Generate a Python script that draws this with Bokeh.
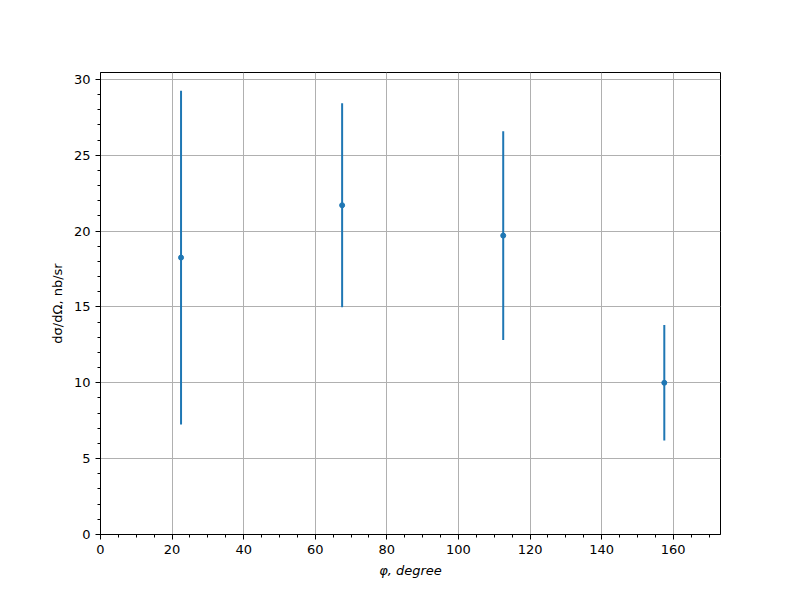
from bokeh.plotting import figure
from bokeh.models import Range1d, SingleIntervalTicker, ColumnDataSource
from bokeh.embed import file_html
from bokeh.resources import INLINE

# data
phi = [22.5, 67.5, 112.5, 157.5]
dsigma = [18.25, 21.7, 19.7, 10.0]
err = [11.0, 6.72, 6.88, 3.8]

lower = [v - e for v, e in zip(dsigma, err)]
upper = [v + e for v, e in zip(dsigma, err)]

src = ColumnDataSource(dict(x=phi, y=dsigma, lo=lower, hi=upper))

p = figure(width=792, height=592, output_backend="svg", toolbar_location=None,
           x_range=Range1d(0, 173.2), y_range=Range1d(0, 30.45),
           min_border_left=100, min_border_top=72, min_border_right=72, min_border_bottom=58)

p.background_fill_color = "white"
p.border_fill_color = "white"
p.outline_line_color = "black"
p.outline_line_width = 1

p.segment(x0="x", y0="lo", x1="x", y1="hi", source=src, line_color="#1f77b4", line_width=2)
p.scatter(x="x", y="y", source=src, size=5, color="#1f77b4", marker="circle")

p.xaxis.ticker = SingleIntervalTicker(interval=20, num_minor_ticks=4)
p.yaxis.ticker = SingleIntervalTicker(interval=5, num_minor_ticks=5)

for ax in (p.xaxis[0], p.yaxis[0]):
    ax.axis_line_color = "black"
    ax.axis_line_width = 1
    ax.major_tick_in = 0
    ax.major_tick_out = 5
    ax.minor_tick_in = 0
    ax.minor_tick_out = 3
    ax.major_tick_line_color = "black"
    ax.minor_tick_line_color = "black"
    ax.major_label_text_font = "DejaVu Sans"
    ax.major_label_text_font_size = "13px"
    ax.major_label_text_color = "black"
    ax.major_label_standoff = 5
    ax.axis_label_text_font = "DejaVu Sans"
    ax.axis_label_text_font_size = "13px"
    ax.axis_label_text_color = "black"
    ax.axis_label_standoff = 6

p.xaxis.axis_label = "φ, degree"
p.xaxis.axis_label_text_font_style = "italic"
p.yaxis.axis_label = "dσ/dΩ, nb/sr"
p.yaxis.axis_label_text_font_style = "normal"

p.xgrid.grid_line_color = "#b0b0b0"
p.ygrid.grid_line_color = "#b0b0b0"
p.xgrid.grid_line_width = 1
p.ygrid.grid_line_width = 1

open("out.html", "w").write(file_html(p, INLINE))
